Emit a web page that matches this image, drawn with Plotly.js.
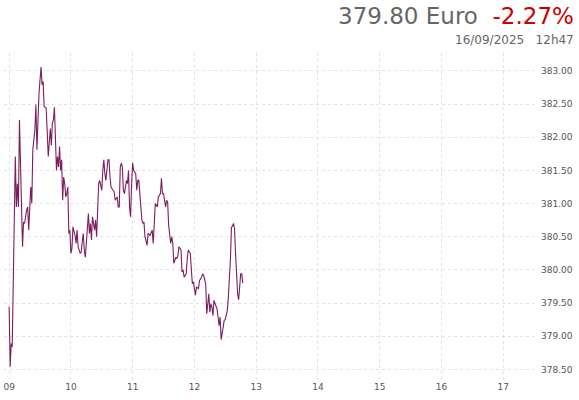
<!DOCTYPE html>
<html>
<head>
<meta charset="utf-8">
<script src="https://cdn.plot.ly/plotly-3.0.1.min.js"></script>
<style>
  html, body { margin: 0; padding: 0; background: #fff; }
  #graph { width: 579px; height: 400px; }
</style>
</head>
<body>
<div id="graph"></div>
<script>
// intraday quotes, 16/09/2025
var day = '2025-09-16 ';
var times = [
  '09:00','09:01','09:02','09:03','09:06','09:07','09:08','09:09','09:10','09:13',
  '09:14','09:15','09:17','09:18','09:19','09:21','09:22','09:23','09:25','09:26',
  '09:27','09:29','09:31','09:32','09:33','09:34','09:36','09:37','09:38','09:40',
  '09:41','09:42','09:43','09:44','09:45','09:46','09:47','09:48','09:49','09:50',
  '09:51','09:52','09:53','09:54','09:55','09:56','09:57','09:58','09:59','10:00',
  '10:01','10:02','10:04','10:05','10:06','10:07','10:09','10:10','10:11','10:12',
  '10:13','10:14','10:15','10:17','10:18','10:19','10:20','10:21','10:23','10:24',
  '10:25','10:26','10:27','10:28','10:30','10:31','10:32','10:33','10:34','10:36',
  '10:37','10:38','10:39','10:41','10:42','10:43','10:45','10:46','10:47','10:48',
  '10:49','10:50','10:51','10:52','10:54','10:55','10:56','10:57','10:58','10:59',
  '11:00','11:01','11:03','11:04','11:05','11:06','11:07','11:09','11:10','11:11',
  '11:12','11:14','11:15','11:17','11:19','11:20','11:22','11:24','11:25','11:27',
  '11:28','11:29','11:30','11:32','11:33','11:34','11:35','11:37','11:38','11:39',
  '11:40','11:42','11:43','11:44','11:45','11:47','11:48','11:49','11:50','11:52',
  '11:53','11:54','11:56','11:57','11:58','11:59','12:00','12:01','12:02','12:04',
  '12:05','12:07','12:08','12:09','12:11','12:12','12:13','12:14','12:15','12:16',
  '12:17','12:18','12:19','12:20','12:22','12:23','12:24','12:25','12:26','12:28',
  '12:29','12:30','12:32','12:33','12:34','12:35','12:36','12:37','12:38','12:39',
  '12:40','12:41','12:42','12:43','12:44','12:45','12:46','12:47'
];
var prices = [
  379.44,378.54,378.89,378.84,381.71,380.95,381.30,380.95,382.26,380.35,
  380.72,380.70,380.90,380.95,380.60,381.25,381.00,381.81,382.11,382.49,
  381.81,382.66,383.06,382.79,382.84,382.46,382.44,382.16,381.71,382.13,
  381.88,382.21,382.26,382.45,381.96,381.50,381.71,381.55,381.86,381.50,
  381.66,381.05,381.40,381.30,381.10,381.15,381.25,380.55,380.60,380.25,
  380.32,380.65,380.52,380.40,380.60,380.35,380.25,380.27,380.42,380.55,
  380.30,380.19,380.40,380.85,380.55,380.70,380.45,380.80,380.60,380.75,
  380.50,380.95,381.30,381.35,381.20,381.50,381.66,381.45,381.35,381.66,
  381.66,381.40,381.25,381.20,381.18,381.05,381.10,380.95,380.95,381.55,
  381.61,381.55,381.20,381.15,381.35,381.30,381.50,380.95,380.80,381.30,
  381.61,381.50,381.45,381.20,381.35,381.35,381.15,380.75,380.70,380.72,
  380.50,380.37,380.55,380.52,380.60,380.40,381.00,380.95,381.10,381.15,
  381.38,381.15,381.15,380.95,381.05,381.02,380.67,380.40,380.50,380.40,
  380.10,380.19,380.17,380.22,380.35,380.30,379.97,380.00,379.89,379.94,
  380.15,380.30,380.25,379.89,379.79,379.82,379.74,379.62,379.74,379.72,
  379.84,379.89,379.94,379.92,379.79,379.34,379.49,379.64,379.36,379.49,
  379.44,379.31,379.54,379.49,379.41,379.29,379.16,379.29,378.95,379.14,
  379.24,379.25,379.39,379.59,379.84,380.15,380.64,380.66,380.70,380.62,
  380.25,379.79,379.64,379.55,379.74,379.94,379.94,379.80
];
var lastPrice = '379.80';
var currency = 'Euro';
var change = '-2.27%';
var stamp = '16/09/2025 &nbsp; 12h47';

var trace = {
  x: times.map(function (t) { return day + t; }),
  y: prices,
  type: 'scatter',
  mode: 'lines',
  line: { color: '#7d1d5f', width: 1.1 },
  hoverinfo: 'x+y'
};

var gridc = '#e2e2e2';
var layout = {
  width: 579,
  height: 400,
  margin: { l: 4, r: 45, t: 53, b: 20 },
  paper_bgcolor: '#fff',
  plot_bgcolor: '#fff',
  showlegend: false,
  font: { family: 'DejaVu Sans', color: '#555' },
  xaxis: {
    type: 'date',
    range: [day + '08:55', day + '17:30'],
    dtick: 3600000,
    tick0: day + '09:00',
    tickformat: '%H',
    showgrid: true,
    gridcolor: gridc,
    griddash: '3px,3px',
    zeroline: false,
    showline: false,
    ticks: '',
    tickfont: { size: 9, color: '#555' }
  },
  yaxis: {
    side: 'right',
    range: [378.34, 383.27],
    dtick: 0.5,
    tick0: 378.5,
    tickformat: '.2f',
    showgrid: true,
    gridcolor: gridc,
    griddash: '3px,3px',
    zeroline: false,
    showline: false,
    ticks: '',
    ticklabelstandoff: 6,
    tickfont: { size: 9, color: '#555' }
  },
  annotations: [
    {
      xref: 'paper', yref: 'paper',
      x: 1.079, y: 1.113, xanchor: 'right', yanchor: 'middle',
      showarrow: false,
      text: lastPrice + ' ' + currency + ' &nbsp;<span style="color:#cc0000">' + change + '</span>',
      font: { family: 'DejaVu Sans', size: 23, color: '#666' }
    },
    {
      xref: 'paper', yref: 'paper',
      x: 1.079, y: 1.04, xanchor: 'right', yanchor: 'middle',
      showarrow: false,
      text: stamp,
      font: { family: 'DejaVu Sans', size: 12, color: '#666' }
    }
  ]
};

Plotly.newPlot('graph', [trace], layout, { displayModeBar: false, staticPlot: true });
</script>
</body>
</html>
